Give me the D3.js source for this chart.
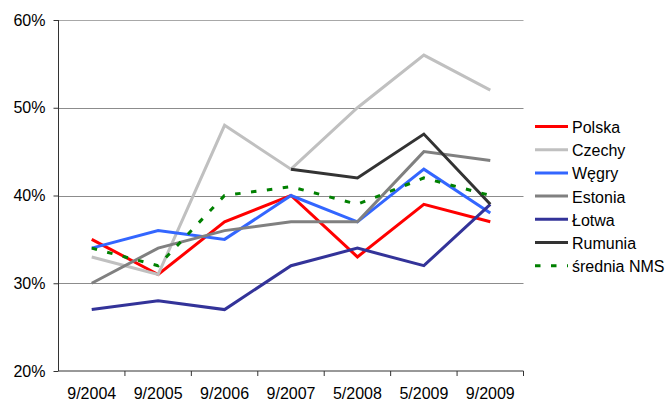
<!DOCTYPE html>
<html>
<head>
<meta charset="utf-8">
<script src="https://cdn.jsdelivr.net/npm/d3@7"></script>
<style>
  html, body { margin: 0; padding: 0; background: #fff; }
  svg { display: block; font-family: "Liberation Sans", Arial, sans-serif; }
</style>
</head>
<body>
<svg id="chart" width="669" height="403"></svg>
<script>
// Survey dates on the x axis
const periods = ["9/2004", "9/2005", "9/2006", "9/2007", "5/2008", "5/2009", "9/2009"];

// Shares (%) per country; null where no survey was done
const polska   = [35, 31, 37, 40, 33, 39, 37];
const czechy   = [33, 31, 48, 43, 50, 56, 52];
const wegry    = [34, 36, 35, 40, 37, 43, 38];
const estonia  = [30, 34, 36, 37, 37, 45, 44];
const lotwa    = [27, 28, 27, 32, 34, 32, 39];
const rumunia  = [null, null, null, 43, 42, 47, 39];
const sredniaNMS = [34, 32, 40, 41, 39, 42, 40];

const yTicks = [20, 30, 40, 50, 60];

const series = [
  { name: "Polska",      values: polska,     color: "#ff0000", dash: null },
  { name: "Czechy",      values: czechy,     color: "#c0c0c0", dash: null },
  { name: "Węgry",       values: wegry,      color: "#3366ff", dash: null },
  { name: "Estonia",     values: estonia,    color: "#808080", dash: null },
  { name: "Łotwa",       values: lotwa,      color: "#333399", dash: null },
  { name: "Rumunia",     values: rumunia,    color: "#333333", dash: null },
  { name: "średnia NMS", values: sredniaNMS, color: "#008000", dash: "5.5,10.5" }
];

const svg = d3.select("#chart");
const plot = { left: 58.5, right: 523.5, top: 20, bottom: 371 };
const fontSize = 16;

const x = d3.scaleBand().domain(periods).range([plot.left, plot.right]);
const y = d3.scaleLinear().domain([20, 60]).range([plot.bottom, plot.top]);

// Horizontal gridlines
svg.append("g")
  .selectAll("line")
  .data(yTicks.filter(t => t > 20))
  .join("line")
  .attr("x1", plot.left).attr("x2", plot.right)
  .attr("y1", d => Math.round(y(d)) + 0.5).attr("y2", d => Math.round(y(d)) + 0.5)
  .attr("stroke", d => d === 60 ? "#a8a8a8" : "#8c8c8c").attr("stroke-width", 1);

// Y axis
const yAxis = d3.axisLeft(y).tickValues(yTicks).tickSize(5).tickPadding(8)
  .tickFormat(d => d + "%");
const gy = svg.append("g").attr("transform", `translate(${plot.left},0)`).call(yAxis);
gy.select(".domain").attr("stroke", "#333").attr("d", `M0,${plot.top}V${plot.bottom}`);
gy.selectAll(".tick line").attr("stroke", "#333");
gy.selectAll(".tick text").attr("font-size", fontSize).attr("fill", "#000")
  .attr("font-family", "Liberation Sans, Arial, sans-serif");

// X axis with ticks on band boundaries
const xAxis = d3.axisBottom(x).tickSize(0).tickPadding(17);
const gx = svg.append("g").attr("transform", `translate(0,${plot.bottom})`).call(xAxis);
gx.select(".domain").attr("stroke", "#333").attr("d", `M${plot.left},0H${plot.right}`);
gx.selectAll(".tick text").attr("font-size", fontSize).attr("fill", "#000")
  .attr("font-family", "Liberation Sans, Arial, sans-serif");
gx.append("g")
  .selectAll("line")
  .data(periods)
  .join("line")
  .attr("x1", d => x(d) + x.bandwidth()).attr("x2", d => x(d) + x.bandwidth())
  .attr("y1", 0).attr("y2", 5)
  .attr("stroke", "#333");

// Series lines
const line = d3.line()
  .defined(d => d.v !== null)
  .x(d => x(d.p) + x.bandwidth() / 2)
  .y(d => y(d.v));

svg.append("g")
  .selectAll("path")
  .data(series)
  .join("path")
  .attr("d", s => line(periods.map((p, i) => ({ p, v: s.values[i] }))))
  .attr("fill", "none")
  .attr("stroke", s => s.color)
  .attr("stroke-width", 3)
  .attr("stroke-linejoin", "miter")
  .attr("stroke-dasharray", s => s.dash);

// Legend
const legend = svg.append("g").attr("transform", "translate(535,126.5)");
const rows = legend.selectAll("g")
  .data(series)
  .join("g")
  .attr("transform", (d, i) => `translate(0,${i * 23.2})`);
rows.append("line")
  .attr("x1", 0).attr("x2", 33)
  .attr("y1", 0).attr("y2", 0)
  .attr("stroke", d => d.color)
  .attr("stroke-width", 3)
  .attr("stroke-dasharray", d => d.dash);
rows.append("text")
  .attr("x", 37).attr("y", 0).attr("dy", "0.4em")
  .attr("font-size", fontSize)
  .attr("fill", "#000")
  .text(d => d.name);
</script>
</body>
</html>
